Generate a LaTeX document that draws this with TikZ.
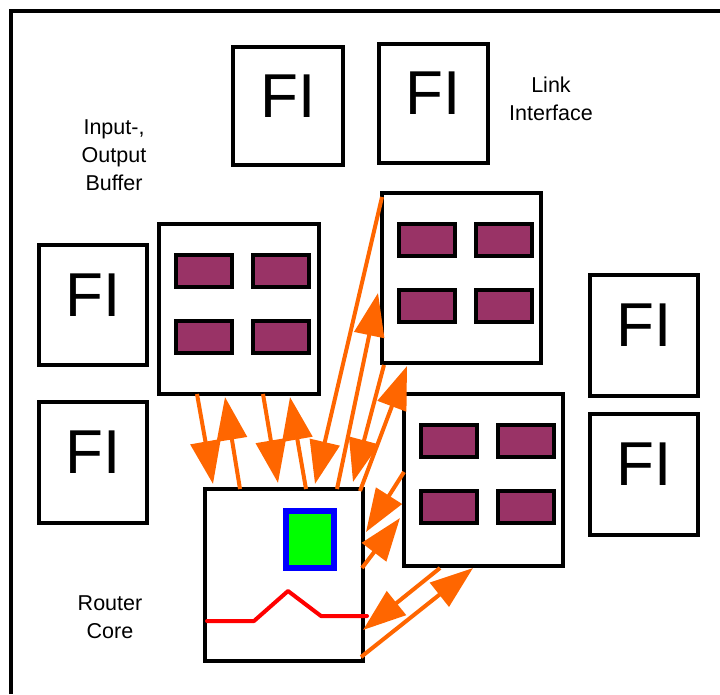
\documentclass[tikz,border=0pt]{standalone}
\usepackage{fontspec}
\setmainfont{Liberation Sans}
\usetikzlibrary{arrows.meta,calc}
\definecolor{flow}{HTML}{FF6600}
\definecolor{slotfill}{HTML}{993366}
\definecolor{coregreen}{HTML}{00FF00}
\definecolor{coreblue}{HTML}{0000FF}
\definecolor{corered}{HTML}{FF0000}

\begin{document}
\begin{tikzpicture}[x=1pt,y=-1pt,
  box/.style={draw=black, line width=4pt, fill=white, inner sep=0pt, outer sep=0pt},
  fibox/.style={box, minimum width=108pt, minimum height=120pt,
                font=\fontsize{62}{62}\selectfont, text depth=20pt},
  bufbox/.style={box, minimum width=160pt, minimum height=170pt},
  slot/.style={draw=black, line width=4pt, fill=slotfill, inner sep=0pt,
               outer sep=0pt, minimum width=56pt, minimum height=32pt},
  boxtext/.style={font=\fontsize{21.5}{28}\selectfont, align=center, inner sep=0pt},
  flowarrow/.style={draw=flow, line width=4pt, -{Triangle[length=43pt,width=30pt]}},
]
\useasboundingbox (0,0) rectangle (720,694);

% outer frame (open to the right and bottom)
\draw[line width=4pt] (11,694) -- (11,11) -- (720,11);

% link interfaces
\node[fibox, minimum width=110pt, minimum height=118pt] (fiA) at (288,106) {FI};
\node[fibox, minimum width=109pt, minimum height=119pt] (fiB) at (433.5,103.5) {FI};
\node[fibox] (fiC) at (93,305) {FI};
\node[fibox, minimum height=121pt] (fiD) at (93,462.5) {FI};
\node[fibox, minimum height=121pt] (fiE) at (644,335.5) {FI};
\node[fibox, minimum height=121pt] (fiF) at (644,474.5) {FI};

% input/output buffers
\node[bufbox] (bufA) at (239,309) {};
\node[bufbox, minimum width=159pt] (bufB) at (461.5,278) {};
\node[bufbox, minimum width=159pt, minimum height=172pt] (bufC) at (483.5,480) {};
\foreach \b in {bufA,bufB,bufC} {
  \node[slot] (\b-1) at ($(\b.north west)+(45,47)$) {};
  \node[slot] (\b-2) at ($(\b.north west)+(121.5,47)$) {};
  \node[slot] (\b-3) at ($(\b.north west)+(45,113)$) {};
  \node[slot] (\b-4) at ($(\b.north west)+(121.5,113)$) {};
}

% router core
\node[box, minimum width=158pt, minimum height=172pt] (core) at (284,575) {};
\node[draw=coreblue, line width=6pt, fill=coregreen, inner sep=0pt, outer sep=0pt,
      minimum width=48pt, minimum height=57pt] (ctrl) at (310,539.5) {};
\draw[corered, line width=4pt, line cap=round, line join=round]
  (207,621) -- (254,621) -- (288,591) -- (321,616) -- (367,616);

% data paths between buffers and core
\draw[flowarrow] ($(bufA.south west)+(38,0)$) -- ($(core.north west)+(8,-5)$);
\draw[flowarrow] ($(core.north west)+(35,0)$) -- ($(bufA.south west)+(66,3)$);
\draw[flowarrow] ($(bufA.south west)+(104,0)$) -- ($(core.north west)+(73,-6)$);
\draw[flowarrow] ($(core.north west)+(101,0)$) -- ($(bufA.south west)+(131,3)$);
\draw[flowarrow] ($(bufB.north west)+(0,4)$) -- ($(core.north west)+(110,-5)$);
\draw[flowarrow] ($(core.north west)+(132,0)$) -- ($(bufB.north west)+(-4,100)$);
\draw[flowarrow] ($(bufB.south west)+(2,2)$) -- ($(core.north west)+(148,-7)$);
\draw[flowarrow] ($(core.north east)+(-3,2)$) -- ($(bufB.south west)+(25,3)$);
\draw[flowarrow] ($(bufC.north west)+(0,78)$) -- ($(core.north east)+(3,43)$);
\draw[flowarrow] ($(core.north east)+(-1,79)$) -- ($(bufC.north west)+(-4,124)$);
\draw[flowarrow] ($(bufC.south west)+(36,2)$) -- ($(core.north east)+(0,141)$);
\draw[flowarrow] ($(core.north east)+(-2,168)$) -- ($(bufC.south west)+(69,2)$);

% captions
\node[boxtext] (bufnote) at (114,155) {Input-,\\Output\\Buffer};
\node[boxtext] (linknote) at (551,98.5) {Link\\Interface};
\node[boxtext] (corenote) at (110,617.5) {Router\\Core};
\end{tikzpicture}
\end{document}
